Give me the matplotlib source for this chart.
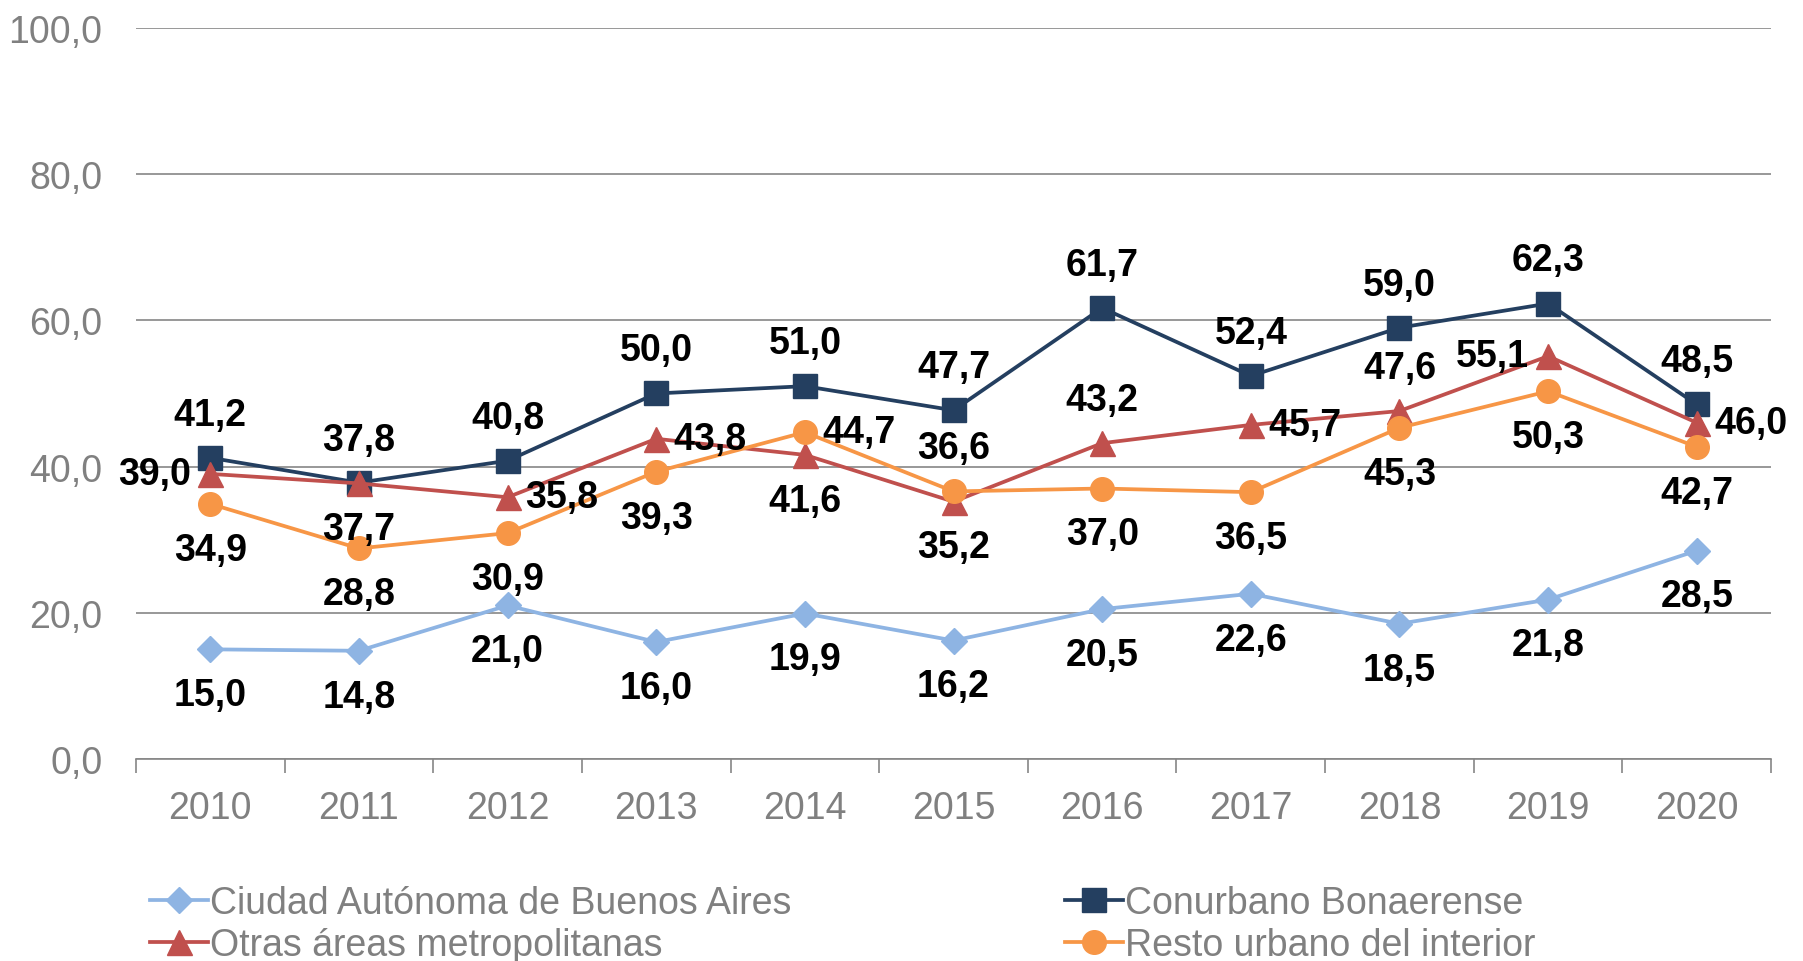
import matplotlib
matplotlib.use("Agg")
import matplotlib.pyplot as plt

years = ["2010", "2011", "2012", "2013", "2014", "2015", "2016", "2017", "2018", "2019", "2020"]
caba = [15.0, 14.8, 21.0, 16.0, 19.9, 16.2, 20.5, 22.6, 18.5, 21.8, 28.5]
conurbano = [41.2, 37.8, 40.8, 50.0, 51.0, 47.7, 61.7, 52.4, 59.0, 62.3, 48.5]
otras = [39.0, 37.7, 35.8, 43.8, 41.6, 35.2, 43.2, 45.7, 47.6, 55.1, 46.0]
resto = [34.9, 28.8, 30.9, 39.3, 44.7, 36.6, 37.0, 36.5, 45.3, 50.3, 42.7]

names = ["Ciudad Autónoma de Buenos Aires", "Conurbano Bonaerense",
         "Otras áreas metropolitanas", "Resto urbano del interior"]

# label placement per point: 'a' above, 'b' below, 'l' left, 'r' right
pos_caba = list("bbbbbbbbbbb")
pos_conu = list("aaaaaaaaaaa")
pos_otras = ["l", "b", "r", "r", "b", "b", "a", "r", "a", "l", "r"]
pos_resto = ["b", "b", "b", "b", "r", "a", "b", "b", "b", "b", "b"]

plt.rcParams["font.family"] = ["Liberation Sans", "DejaVu Sans"]

fig = plt.figure(figsize=(18.03, 9.62), dpi=100)
ax = fig.add_axes([0.0754, 0.2100, 0.9823 - 0.0754, 0.9699 - 0.2100])

x = list(range(len(years)))
styles = [
    (caba, "#8EB4E3", "D", 13, pos_caba),
    (conurbano, "#243F60", "s", 17, pos_conu),
    (otras, "#C0504D", "^", 18, pos_otras),
    (resto, "#F79646", "o", 17, pos_resto),
]

handles = []
for (vals, col, mk, ms, pos), name in zip(styles, names):
    ln, = ax.plot(x, vals, color=col, lw=2.7, marker=mk, markersize=ms,
                  markeredgecolor=col, markerfacecolor=col, zorder=3, label=name)
    handles.append(ln)
    for xi, v, p in zip(x, vals, pos):
        off = {"a": (0, 31), "b": (0, -33), "l": (-40, 0), "r": (39, 0)}[p]
        ax.annotate(f"{v:.1f}".replace(".", ","), (xi, v), xytext=off,
                    textcoords="offset points", ha="center", va="center",
                    fontsize=27, fontweight="bold", color="black", zorder=5)

ax.set_ylim(0, 100)
ax.set_xlim(-0.5, len(years) - 0.5)
ax.set_yticks([0, 20, 40, 60, 80, 100])
ax.set_yticklabels([f"{t:.1f}".replace(".", ",") for t in [0, 20, 40, 60, 80, 100]])
ax.set_xticks(x)
ax.set_xticklabels(years)
ax.set_xticks([i - 0.5 for i in range(len(years) + 1)], minor=True)
ax.tick_params(axis="x", which="major", length=0, pad=22, labelsize=27, labelcolor="#808080")
ax.tick_params(axis="x", which="minor", length=10, width=1.2, color="#868686", direction="out")
ax.tick_params(axis="y", length=0, pad=24, labelsize=27, labelcolor="#808080")

ax.grid(axis="y", color="#868686", lw=1.2, zorder=0)
ax.set_axisbelow(True)
for s in ["top", "right", "left"]:
    ax.spines[s].set_visible(False)
ax.spines["bottom"].set_color("#868686")
ax.spines["bottom"].set_linewidth(1.2)

leg_kw = dict(frameon=False, fontsize=27, labelcolor="#808080", handlelength=1.55,
              handletextpad=0.05, labelspacing=0.16, borderpad=0, borderaxespad=0)
fig.legend([handles[0], handles[2]], [names[0], names[2]], loc="upper left",
           bbox_to_anchor=(150 / 1803, 1 - 886 / 962), **leg_kw)
fig.legend([handles[1], handles[3]], [names[1], names[3]], loc="upper left",
           bbox_to_anchor=(1065 / 1803, 1 - 886 / 962), **leg_kw)

fig.savefig("out.png", dpi=100)
